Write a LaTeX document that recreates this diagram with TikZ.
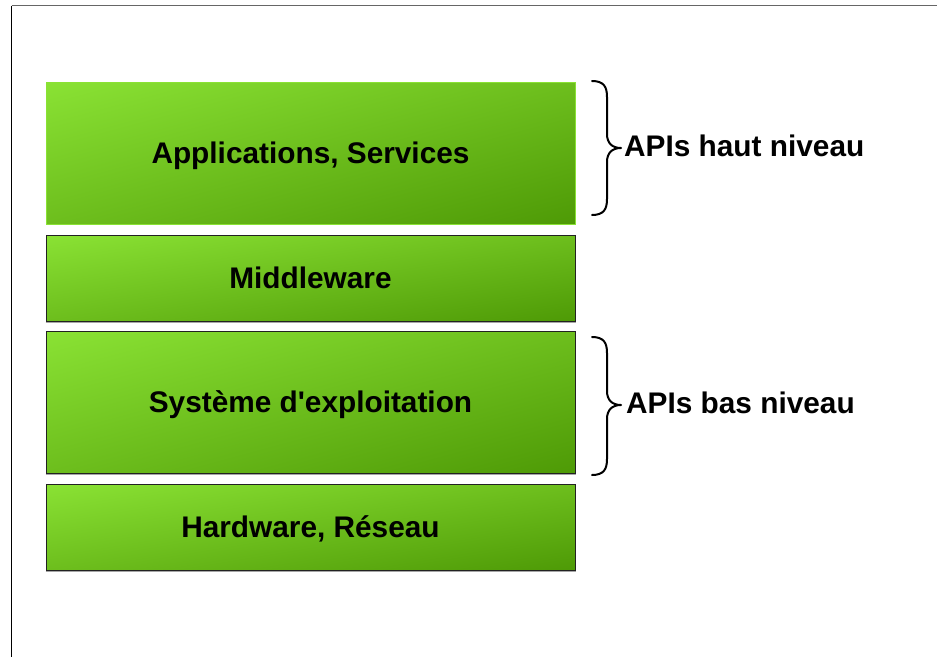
\documentclass[tikz,border=0pt]{standalone}
\usepackage{fontspec}
\setmainfont{Liberation Sans}
\usetikzlibrary{shadings}
\definecolor{gLight}{HTML}{8AE234}
\definecolor{gMid}{HTML}{6DBE1D}
\definecolor{gDark}{HTML}{4E9A06}
\definecolor{edge}{HTML}{222222}
\definecolor{frameGray}{HTML}{666666}
\begin{document}
\begin{tikzpicture}[x=1pt,y=-1pt,
  layer/.style={rectangle, inner sep=0pt, minimum width=529pt,
    upper left=gLight, upper right=gMid, lower left=gMid, lower right=gDark,
    draw=edge, line width=1pt, text height=21.5pt, text depth=0pt,
    font=\fontsize{29.8}{34}\selectfont\bfseries},
  apilabel/.style={anchor=base west, inner sep=0pt,
    font=\fontsize{29.8}{34}\selectfont\bfseries},
  bracestroke/.style={line width=2pt, line cap=round, line join=round}]
  \useasboundingbox (0,0) rectangle (937,656);
  \fill[white] (0,0) rectangle (937,656);
  % page frame
  \draw[frameGray, line width=1.2pt] (11.5,5.5) -- (940,5.5);
  \draw[black, line width=1.2pt] (11.5,5.5) -- (11.5,660);

  % layer stack
  \node[layer, draw=gLight, minimum height=142pt] (app) at (310.5,153) {Applications, Services};
  \node[layer, minimum height=86pt] (mid) at (310.5,278) {Middleware};
  \node[layer, minimum height=142pt] (os) at (310.5,402) {Système d\textquotesingle exploitation};
  \node[layer, minimum height=86pt] (hw) at (310.5,527) {Hardware, Réseau};
  \foreach \n in {mid,os,hw}
    \draw[gray!70, line width=1pt] ([yshift=-1.2pt]\n.south west) -- ([yshift=-1.2pt]\n.south east);

  % braces
  \coordinate (b1top) at (592,81);
  \coordinate (b1tip) at (621,148);
  \coordinate (b1bot) at (592,215);
  \draw[bracestroke] (b1top) .. controls (604,81) and (607,87) .. (607,97)
    -- (607,134) .. controls (607,143) and (612,148) .. (b1tip)
    .. controls (612,148) and (607,153) .. (607,162)
    -- (607,199) .. controls (607,209) and (604,215) .. (b1bot);
  \coordinate (b2top) at (592,337);
  \coordinate (b2tip) at (621,405);
  \coordinate (b2bot) at (592,475);
  \draw[bracestroke] (b2top) .. controls (604,337) and (607,343) .. (607,353)
    -- (607,391) .. controls (607,400) and (612,405) .. (b2tip)
    .. controls (612,405) and (607,410) .. (607,419)
    -- (607,459) .. controls (607,469) and (604,475) .. (b2bot);

  % interface labels
  \node[apilabel] (high) at (624,156.7) {APIs haut niveau};
  \node[apilabel] (low) at (626,413.3) {APIs bas niveau};
\end{tikzpicture}
\end{document}
